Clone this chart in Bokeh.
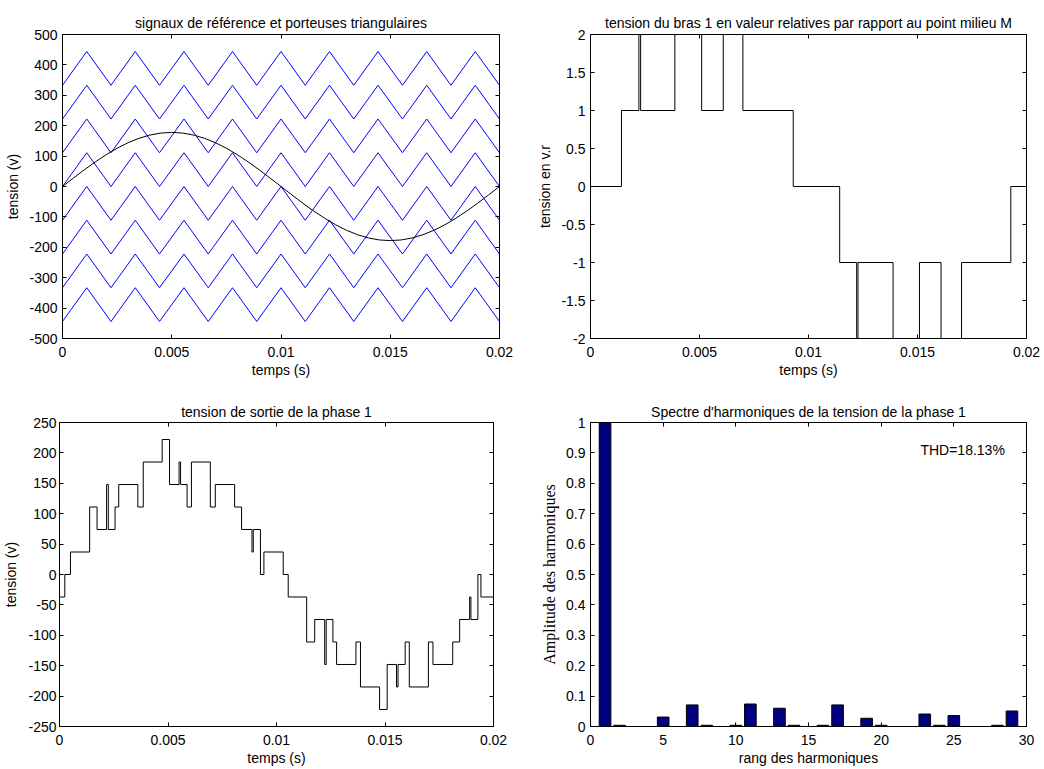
from bokeh.plotting import figure
from bokeh.layouts import column, row
from bokeh.models import LinearAxis, FixedTicker, CustomJSTickFormatter, Range1d, Label
from bokeh.embed import file_html
from bokeh.resources import INLINE

# ---------------- data ----------------
# subplot 1 : reference sine + 8 triangular carriers
ref_t = [0.0, 0.0005, 0.001, 0.0015, 0.002, 0.0025, 0.003, 0.0035, 0.004, 0.0045,
         0.005, 0.0055, 0.006, 0.0065, 0.007, 0.0075, 0.008, 0.0085, 0.009, 0.0095,
         0.01, 0.0105, 0.011, 0.0115, 0.012, 0.0125, 0.013, 0.0135, 0.014, 0.0145,
         0.015, 0.0155, 0.016, 0.0165, 0.017, 0.0175, 0.018, 0.0185, 0.019, 0.0195, 0.02]
ref_v = [0, 27.8, 55.0, 80.8, 104.6, 125.9, 144.0, 158.6, 169.3, 175.8,
         178.0, 175.8, 169.3, 158.6, 144.0, 125.9, 104.6, 80.8, 55.0, 27.8,
         0, -27.8, -55.0, -80.8, -104.6, -125.9, -144.0, -158.6, -169.3, -175.8,
         -178.0, -175.8, -169.3, -158.6, -144.0, -125.9, -104.6, -80.8, -55.0, -27.8, 0]
carrier_t = [0.0, 0.00111, 0.00222, 0.00333, 0.00444, 0.00556, 0.00667, 0.00778,
             0.00889, 0.01, 0.01111, 0.01222, 0.01333, 0.01444, 0.01556, 0.01667,
             0.01778, 0.01889, 0.02]
carrier_low = [333, 222, 111, 0, -111, -222, -333, -444]
carrier_high = [444, 333, 222, 111, 0, -111, -222, -333]

# subplot 2 : arm voltage (relative values)
bras_t = [0, 0.00142, 0.00222, 0.00230, 0.00387, 0.00510, 0.00609, 0.00699, 0.00930,
          0.01143, 0.01221, 0.01227, 0.01388, 0.01509, 0.01608, 0.01702, 0.01928, 0.02]
bras_v = [0, 1, 2, 1, 2, 1, 2, 1, 0, -1, -2, -1, -2, -1, -2, -1, 0, 0]

# subplot 3 : phase output voltage
phase_t = [0, 0.000245, 0.000505, 0.00139, 0.00173, 0.00217, 0.00225, 0.00256, 0.00273,
           0.00361, 0.00386, 0.00473, 0.00507, 0.00551, 0.00558, 0.00588, 0.00608, 0.00695,
           0.00718, 0.00807, 0.00839, 0.00887, 0.00893, 0.00926, 0.00942, 0.01031, 0.01054,
           0.01139, 0.01176, 0.01222, 0.01229, 0.01260, 0.01277, 0.01366, 0.01387, 0.01475,
           0.01510, 0.01553, 0.01560, 0.01593, 0.01612, 0.01700, 0.01721, 0.01812, 0.01844,
           0.01890, 0.01896, 0.01928, 0.01942, 0.02]
phase_v = [-37, 0, 37, 111, 74, 148, 74, 111, 148, 111, 185, 222, 148, 185, 148, 111,
           185, 111, 148, 111, 74, 37, 74, 0, 37, 0, -37, -111, -74, -148, -74, -111,
           -148, -111, -185, -222, -148, -185, -148, -111, -185, -111, -148, -111, -74,
           -37, -74, 0, -37, -37]

# subplot 4 : harmonic spectrum
harm_rank = [1, 2, 3, 4, 5, 6, 7, 8, 9, 10, 11, 12, 13, 14, 15, 16, 17, 18, 19, 20,
             21, 22, 23, 24, 25, 26, 27, 28, 29, 30]
harm_amp = [1.0, 0.004, 0, 0, 0.031, 0, 0.071, 0.004, 0, 0.004, 0.074, 0, 0.060, 0.004,
            0, 0.004, 0.071, 0, 0.027, 0.004, 0, 0, 0.041, 0.004, 0.036, 0, 0, 0.004,
            0.051, 0]
thd_text = "THD=18.13%"

# ticks
time_ticks = [0, 0.005, 0.01, 0.015, 0.02]
y1_ticks = [-500, -400, -300, -200, -100, 0, 100, 200, 300, 400, 500]
y2_ticks = [-2, -1.5, -1, -0.5, 0, 0.5, 1, 1.5, 2]
y3_ticks = [-250, -200, -150, -100, -50, 0, 50, 100, 150, 200, 250]
x4_ticks = [0, 5, 10, 15, 20, 25, 30]
y4_ticks = [0, 0.1, 0.2, 0.3, 0.4, 0.5, 0.6, 0.7, 0.8, 0.9, 1]

FONT = "Liberation Sans"
SERIF = "Liberation Serif"
FS = "14px"


def make_fig(width, height, xr, yr, borders, title, standoff):
    p = figure(width=width, height=height, x_range=Range1d(*xr), y_range=Range1d(*yr),
               output_backend="svg", toolbar_location=None, tools="")
    p.min_border_left, p.min_border_right, p.min_border_top, p.min_border_bottom = borders
    p.grid.visible = False
    p.outline_line_color = "black"
    p.outline_line_width = 1
    p.background_fill_color = "white"
    p.border_fill_color = "white"
    p.title.text = title
    p.title.align = "center"
    p.title.text_font = FONT
    p.title.text_font_size = FS
    p.title.text_font_style = "normal"
    p.title.text_color = "black"
    p.title.standoff = standoff
    return p


def style_axes(p, xticks, yticks, xlabel, ylabel, ylab_font=FONT, ylab_size=FS,
               xstand=8, ystand=5, xlab_stand=2, ylab_stand=5):
    fmt = CustomJSTickFormatter(code="return String(Math.round(tick*1e6)/1e6);")
    for ax, ticks, lab, st, lst in ((p.xaxis[0], xticks, xlabel, xstand, xlab_stand),
                                    (p.yaxis[0], yticks, ylabel, ystand, ylab_stand)):
        ax.ticker = FixedTicker(ticks=ticks)
        ax.formatter = fmt
        ax.axis_label = lab
        ax.axis_label_text_font = FONT
        ax.axis_label_text_font_size = FS
        ax.axis_label_text_font_style = "normal"
        ax.axis_label_text_color = "black"
        ax.axis_label_standoff = lst
        ax.major_label_text_font = FONT
        ax.major_label_text_font_size = FS
        ax.major_label_text_color = "black"
        ax.major_label_standoff = st
        ax.major_tick_in = 4
        ax.major_tick_out = 0
        ax.minor_tick_line_color = None
        ax.axis_line_color = "black"
        ax.major_tick_line_color = "black"
    p.yaxis[0].axis_label_text_font = ylab_font
    p.yaxis[0].axis_label_text_font_size = ylab_size
    for loc, ticks in (("right", yticks), ("above", xticks)):
        ax = LinearAxis(ticker=FixedTicker(ticks=ticks),
                        formatter=CustomJSTickFormatter(code="return '';"),
                        major_label_text_font_size="0px", major_label_standoff=0,
                        major_tick_in=4, major_tick_out=0, minor_tick_line_color=None,
                        axis_line_color="black", major_tick_line_color="black")
        p.add_layout(ax, loc)


# ---- subplot 1 ----
p1 = make_fig(520, 380, (0, 0.02), (-500, 500), (62, 21, 33, 41),
              "signaux de référence et porteuses triangulaires", 8)
carrier_xs = []
carrier_ys = []
for lo, hi in zip(carrier_low, carrier_high):
    carrier_xs.append(carrier_t)
    carrier_ys.append([lo if i % 2 == 0 else hi for i in range(len(carrier_t))])
p1.multi_line(xs=carrier_xs, ys=carrier_ys, line_color="#0000ff", line_width=1)
p1.line(ref_t, ref_v, line_color="black", line_width=1)
style_axes(p1, time_ticks, y1_ticks, "temps (s)", "tension (v)")

# ---- subplot 2 ----
p2 = make_fig(524, 380, (0, 0.02), (-2, 2), (70, 18, 34, 39),
              "tension du bras 1 en valeur relatives par rapport au point milieu M", 8)
p2.step(bras_t, bras_v, mode="after", line_color="black", line_width=1)
style_axes(p2, time_ticks, y2_ticks, "temps (s)", "tension en v.r")

# ---- subplot 3 ----
p3 = make_fig(520, 388, (0, 0.02), (-250, 250), (58, 27, 42, 39),
              "tension de sortie de la phase 1", 6)
p3.step(phase_t, phase_v, mode="after", line_color="black", line_width=1)
style_axes(p3, time_ticks, y3_ticks, "temps (s)", "tension (v)", ystand=3, ylab_stand=6)

# ---- subplot 4 ----
p4 = make_fig(524, 388, (0, 30), (0, 1), (70, 18, 41, 40),
              "Spectre d'harmoniques de la tension de la phase 1", 6)
p4.vbar(x=harm_rank, top=harm_amp, width=0.8, fill_color="#000080", line_color="black",
        line_width=1)
p4.add_layout(Label(x=22.7, y=0.908, text=thd_text, text_font=FONT, text_font_size=FS,
                    text_baseline="middle", text_align="left", text_color="black"))
style_axes(p4, x4_ticks, y4_ticks, "rang des harmoniques", "Amplitude des harmoniques",
           ylab_font=SERIF, ylab_size="16px")

layout = column(row(p1, p2), row(p3, p4))
open("out.html", "w").write(file_html(layout, INLINE))
